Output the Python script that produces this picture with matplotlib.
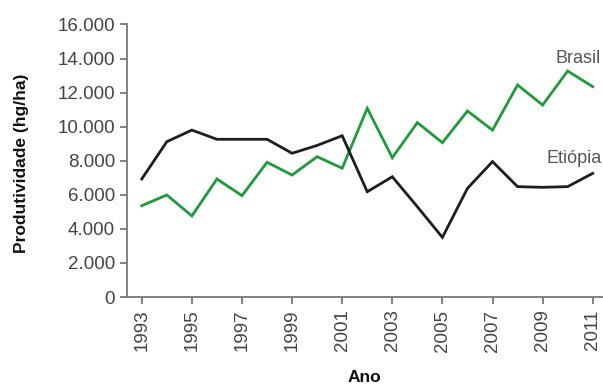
import matplotlib
matplotlib.use("Agg")
from matplotlib import pyplot as plt

# dados (hg/ha)
anos = list(range(1993, 2012))
brasil = [5360, 5990, 4760, 6930, 5950, 7910, 7160, 8240, 7560, 11080,
          8180, 10240, 9060, 10920, 9800, 12450, 11270, 13270, 12350]
etiopia = [6930, 9120, 9800, 9260, 9260, 9260, 8440, 8900, 9470, 6180,
           7060, 5300, 3500, 6380, 7950, 6480, 6440, 6480, 7260]

x_ticks = list(range(1993, 2012, 2))
y_ticks = [0, 2000, 4000, 6000, 8000, 10000, 12000, 14000, 16000]
y_tick_labels = ["0", "2.000", "4.000", "6.000", "8.000", "10.000",
                 "12.000", "14.000", "16.000"]

plt.rcParams['font.family'] = ['Liberation Sans', 'DejaVu Sans']

fig = plt.figure(figsize=(6.03, 3.88), dpi=100)
ax = fig.add_axes([0.2106, 0.2345, 0.7894, 0.7024])

ax.plot(anos, brasil, color='#1f9a3c', lw=2.0, solid_joinstyle='miter')
ax.plot(anos, etiopia, color='#1e1e1e', lw=2.0, solid_joinstyle='miter')

ax.set_xlim(1992.41, 2011.41)
ax.set_ylim(0, 16000)
ax.set_xticks(x_ticks)
ax.set_xticklabels([str(a) for a in x_ticks], rotation=90)
ax.set_yticks(y_ticks)
ax.set_yticklabels(y_tick_labels)

for s in ['top', 'right']:
    ax.spines[s].set_visible(False)
for s in ['left', 'bottom']:
    ax.spines[s].set_color('#777777')
    ax.spines[s].set_linewidth(1.3)
ax.tick_params(colors='#777777', labelcolor='#444444', labelsize=13.5,
               length=5, width=1.3)
ax.tick_params(axis='x', pad=4)

ax.text(2009.5, 14030, "Brasil", fontsize=13, color='#555555',
        va='center', ha='left', clip_on=False)
ax.text(2009.15, 8160, "Etiópia", fontsize=13, color='#555555',
        va='center', ha='left', clip_on=False)

fig.text(0.036, 0.58, "Produtividade (hg/ha)", rotation=90, fontsize=12.5,
         fontweight='bold', ha='center', va='center', color='#111111')
fig.text(0.604, 0.026, "Ano", fontsize=12.5, fontweight='bold',
         ha='center', va='center', color='#111111')

fig.savefig("out.png", dpi=100)
